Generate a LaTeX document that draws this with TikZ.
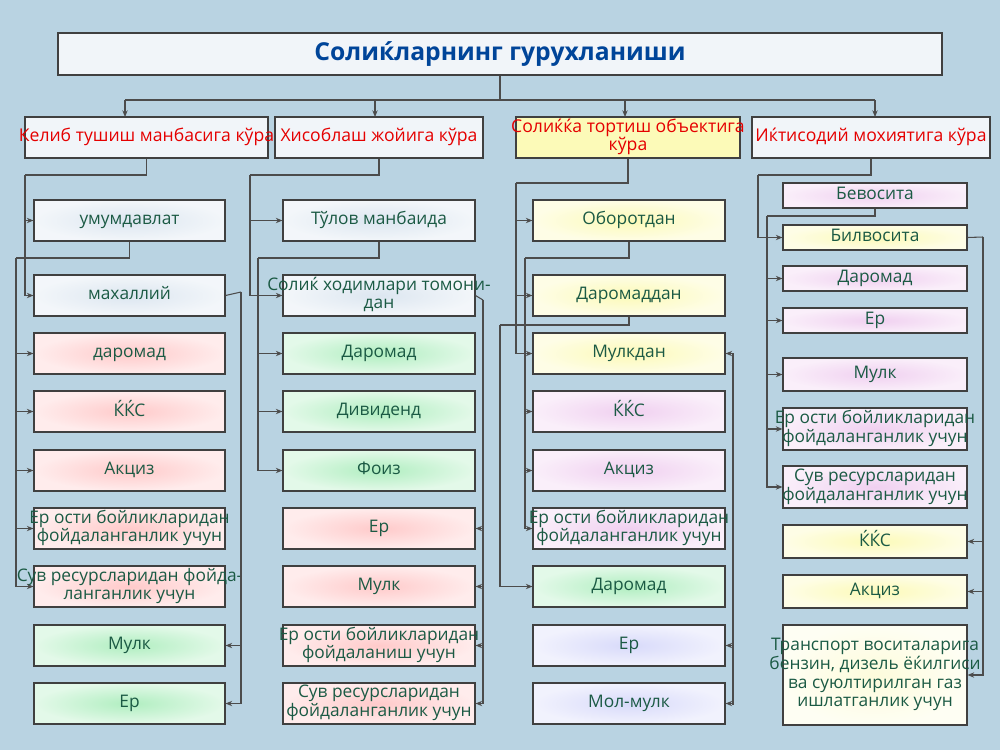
\documentclass[tikz,border=0pt]{standalone}
\usepackage{fontspec}
\setmainfont{Open Sans}
\usetikzlibrary{arrows.meta,calc}
\definecolor{bg}{HTML}{B9D3E2}
\definecolor{tx}{HTML}{1B5A44}
\definecolor{cb}{HTML}{DCE6F0}
\definecolor{cp}{HTML}{FFCACA}
\definecolor{cg}{HTML}{B0EEC0}
\definecolor{cy}{HTML}{FCFAB8}
\definecolor{cyl}{HTML}{FDFCDC}
\definecolor{cv}{HTML}{F0D0F0}
\definecolor{cl}{HTML}{D8DAFA}
\tikzset{
 box/.style={draw=black!75,line width=0.8pt,inner sep=0pt,align=center,text=tx,font=\fontsize{13}{14.5}\selectfont},
 hd/.style={box,text=red!90!black,font=\fontsize{13.2}{14}\selectfont},
 ln/.style={draw=black!70,line width=0.8pt},
 ar/.style={ln,-{Stealth[length=5pt,width=4pt]}}
}
\newcommand\zt[1]{\makebox[0pt]{\begin{tabular}{@{}c@{}}#1\end{tabular}}}
\newcommand\bx[7]{\node[box,inner color=#6,outer color=#6!35!white,minimum width={(#4-#2)*0.75pt},minimum height={(#5-#3)*0.75pt}] (#1) at ({(#2+#4)/2},{(#3+#5)/2}) {\zt{#7}};}
\newcommand\hx[7]{\node[hd,fill=#6,minimum width={(#4-#2)*0.75pt},minimum height={(#5-#3)*0.75pt}] (#1) at ({(#2+#4)/2},{(#3+#5)/2}) {\zt{#7}};}
\renewcommand\arraystretch{0.95}
\begin{document}
\begin{tikzpicture}[x=0.75pt,y=-0.75pt]
\fill[bg] (0,0) rectangle (1000,750);
\useasboundingbox (0,0) rectangle (1000,750);
\node[box,fill=cb!40,minimum width={884*0.75pt},minimum height={42*0.75pt},text=blue!55!cyan!60!black,font=\fontsize{18.5}{20}\selectfont\bfseries] (t) at (500,54) {Солиќларнинг гурухланиши};
\hx{h1}{25}{117}{268}{158}{cb!40}{Келиб тушиш манбасига кўра}
\hx{h2}{275}{117}{483}{158}{cb!40}{Хисоблаш жойига кўра}
\hx{h3}{516}{117}{740}{158}{cy}{Солиќќа тортиш объектига\\кўра}
\hx{h4}{752}{117}{990}{158}{cb!40}{Иќтисодий мохиятига кўра}
\coordinate (tj) at (500,100);
\draw[ln] (t.south) -- (tj);
\draw[ln] (125,100) -- (875,100);
\foreach \x/\h in {125/h1,375/h2,625/h3,875/h4}{\draw[ar] (\x,100) -- (\x,117);}
% column 1
\bx{a1}{34}{200}{225}{241}{cb}{умумдавлат}
\bx{a2}{34}{275}{225}{316}{cb}{махаллий}
\bx{a3}{34}{333}{225}{374}{cp}{даромад}
\bx{a4}{34}{391}{225}{432}{cp}{ЌЌС}
\bx{a5}{34}{450}{225}{491}{cp}{Акциз}
\bx{a6}{34}{508}{225}{549}{cp}{Ер ости бойликларидан\\фойдаланганлик учун}
\bx{a7}{34}{566}{225}{607}{cp}{Сув ресурсларидан фойда-\\ланганлик учун}
\bx{a8}{34}{625}{225}{666}{cg}{Мулк}
\bx{a9}{34}{683}{225}{724}{cg}{Ер}
% column 2
\bx{b1}{283}{200}{475}{241}{cb}{Тўлов манбаида}
\bx{b2}{283}{275}{475}{316}{cb}{Солиќ ходимлари томони-\\дан}
\bx{b3}{283}{333}{475}{374}{cg}{Даромад}
\bx{b4}{283}{391}{475}{432}{cg}{Дивиденд}
\bx{b5}{283}{450}{475}{491}{cg}{Фоиз}
\bx{b6}{283}{508}{475}{549}{cp}{Ер}
\bx{b7}{283}{566}{475}{607}{cp}{Мулк}
\bx{b8}{283}{625}{475}{666}{cp}{Ер ости бойликларидан\\фойдаланиш учун}
\bx{b9}{283}{683}{475}{724}{cp}{Сув ресурсларидан\\фойдаланганлик учун}
% column 3
\bx{c1}{533}{200}{725}{241}{cy}{Оборотдан}
\bx{c2}{533}{275}{725}{316}{cy}{Даромаддан}
\bx{c3}{533}{333}{725}{374}{cy}{Мулкдан}
\bx{c4}{533}{391}{725}{432}{cv}{ЌЌС}
\bx{c5}{533}{450}{725}{491}{cv}{Акциз}
\bx{c6}{533}{508}{725}{549}{cv}{Ер ости бойликларидан\\фойдаланганлик учун}
\bx{c7}{533}{566}{725}{607}{cg}{Даромад}
\bx{c8}{533}{625}{725}{666}{cl}{Ер}
\bx{c9}{533}{683}{725}{724}{cl}{Мол-мулк}
% column 4
\bx{d1}{783}{183}{967}{208}{cv}{Бевосита}
\bx{d2}{783}{225}{967}{250}{cy}{Билвосита}
\bx{d3}{783}{266}{967}{291}{cv}{Даромад}
\bx{d4}{783}{308}{967}{333}{cv}{Ер}
\bx{d5}{783}{358}{967}{391}{cv}{Мулк}
\bx{d6}{783}{408}{967}{450}{cv}{Ер ости бойликларидан\\фойдаланганлик учун}
\bx{d7}{783}{466}{967}{508}{cv}{Сув ресурсларидан\\фойдаланганлик учун}
\bx{d8}{783}{525}{967}{558}{cy}{ЌЌС}
\bx{d9}{783}{575}{967}{608}{cy}{Акциз}
\bx{d10}{783}{625}{967}{725}{cyl}{Транспорт воситаларига\\бензин, дизель ёќилгиси\\ва суюлтирилган газ\\ишлатганлик учун}
% connectors column 1
\coordinate (p1) at (25,175);
\draw[ln] (h1.south) |- (p1);
\draw[ar] (p1) |- (a1.west);
\draw[ar] (p1) |- (a2.west);
\coordinate (p2) at (16,258);
\draw[ln] (a1.south) |- (p2);
\foreach \n in {a3,a4,a5,a6,a7}{\draw[ar] (p2) |- (\n.west);}
\coordinate (p3) at (241,292);
\draw[ln] (a2.east) -- (p3);
\foreach \n in {a8,a9}{\draw[ar] (p3) |- (\n.east);}
% column 2
\coordinate (q1) at (250,175);
\draw[ln] (h2.south) |- (q1);
\draw[ar] (q1) |- (b1.west);
\draw[ar] (q1) |- (b2.west);
\coordinate (q2) at (258,258);
\draw[ln] (b1.south) |- (q2);
\foreach \n in {b3,b4,b5}{\draw[ar] (q2) |- (\n.west);}
\coordinate (q3) at (483,300);
\draw[ln] (b2.east) -- (q3);
\foreach \n in {b6,b7,b8,b9}{\draw[ar] (q3) |- (\n.east);}
% column 3
\coordinate (r1) at (516,183);
\draw[ln] (h3.south) |- (r1);
\foreach \n in {c1,c2,c3}{\draw[ar] (r1) |- (\n.west);}
\coordinate (r2) at (525,258);
\draw[ln] (c1.south) |- (r2);
\foreach \n in {c4,c5,c6}{\draw[ar] (r2) |- (\n.west);}
\coordinate (r3) at (500,325);
\draw[ln] (c2.south) |- (r3);
\draw[ar] (r3) |- (c7.west);
\coordinate (r4) at (733,704);
\foreach \n in {c3,c8,c9}{\draw[ar] (r4) |- (\n.east);}
% column 4
\coordinate (s1) at (758,175);
\draw[ln] (h4.south) |- (s1);
\draw[ar] (s1) |- (d2.west);
\coordinate (s2) at (767,216);
\draw[ln] (d1.south) |- (s2);
\foreach \n in {d3,d4,d5,d6,d7}{\draw[ar] (s2) |- (\n.west);}
\coordinate (s3) at (983,237);
\draw[ln] (d2.east) -- (s3);
\foreach \n in {d8,d9,d10}{\draw[ar] (s3) |- (\n.east);}
\end{tikzpicture}
\end{document}
